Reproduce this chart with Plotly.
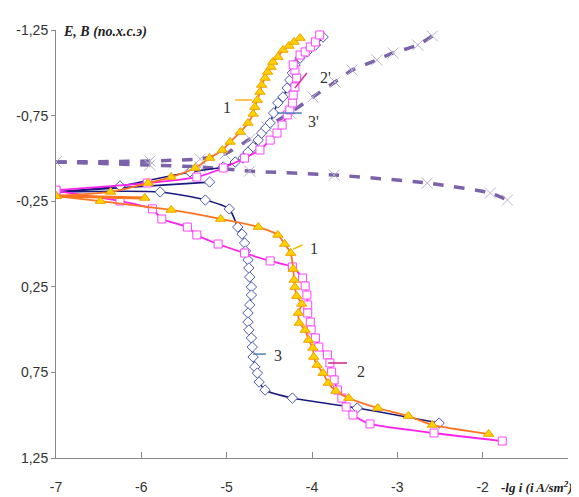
import plotly.graph_objects as go

# ---- data ----
# Curve 1 (orange line, yellow triangles)
c1_cat_x = [-7.00, -6.48, -5.65, -5.07, -4.63, -4.40, -4.32, -4.25, -4.22, -4.21, -4.20, -4.18, -4.12,
            -4.16, -4.15, -4.08, -4.04, -3.99, -3.98, -3.94, -3.87, -3.81, -3.72, -3.57, -3.23, -2.87, -2.59, -1.93]
c1_cat_y = [-0.280, -0.251, -0.199, -0.146, -0.099, -0.053, 0.000, 0.053, 0.146, 0.210, 0.251, 0.304, 0.350,
            0.403, 0.461, 0.502, 0.561, 0.607, 0.660, 0.707, 0.754, 0.812, 0.859, 0.900, 0.958, 1.005, 1.057, 1.110]
c1_an_x = [-7.00, -6.36, -5.92, -5.65, -5.37, -5.20, -5.05, -4.96, -4.84, -4.75, -4.69, -4.67, -4.64, -4.61,
           -4.59, -4.55, -4.52, -4.48, -4.46, -4.40, -4.34, -4.27, -4.21, -4.14]
c1_an_y = [-0.280, -0.304, -0.356, -0.391, -0.444, -0.502, -0.549, -0.596, -0.654, -0.707, -0.760, -0.800, -0.841, -0.888,
           -0.929, -0.970, -1.005, -1.034, -1.063, -1.092, -1.133, -1.157, -1.180, -1.203]
c1_short_x = [-7.00, -5.96]
c1_short_y = [-0.280, -0.269]

# Curve 2 (magenta line, open squares)
c2_cat_x = [-7.00, -6.25, -5.87, -5.76, -5.46, -5.35, -5.10, -4.79, -4.49, -4.23, -4.11, -4.08, -4.06, -4.05, -4.05,
            -4.02, -4.01, -3.96, -3.92, -3.82, -3.79, -3.77, -3.74, -3.70, -3.65, -3.60, -3.52, -3.32, -2.57, -1.77]
c2_cat_y = [-0.310, -0.251, -0.205, -0.146, -0.099, -0.053, 0.000, 0.053, 0.099, 0.134, 0.199, 0.245, 0.298, 0.356, 0.403,
            0.456, 0.502, 0.549, 0.602, 0.648, 0.695, 0.748, 0.794, 0.853, 0.900, 0.952, 0.999, 1.051, 1.104, 1.151]
c2_an_x = [-7.00, -5.93, -5.35, -5.04, -4.79, -4.61, -4.49, -4.41, -4.35, -4.29, -4.26, -4.23, -4.22, -4.20, -4.18,
           -4.20, -4.22, -4.14, -4.08, -4.02, -3.96, -3.91]
c2_an_y = [-0.315, -0.356, -0.391, -0.444, -0.502, -0.549, -0.607, -0.648, -0.695, -0.754, -0.783, -0.824, -0.870, -0.917, -0.970,
           -1.016, -1.046, -1.104, -1.122, -1.151, -1.180, -1.221]

# Curve 3 (navy line, open diamonds)
c3_cat_x = [-7.00, -5.78, -5.25, -4.97, -4.87, -4.82, -4.79, -4.78, -4.75, -4.74, -4.73, -4.71, -4.71, -4.73,
            -4.75, -4.75, -4.74, -4.71, -4.70, -4.69, -4.67, -4.64, -4.62, -4.55, -4.23, -3.47, -2.51]
c3_cat_y = [-0.304, -0.304, -0.257, -0.205, -0.099, -0.058, -0.006, 0.041, 0.093, 0.140, 0.193, 0.251, 0.298, 0.356,
            0.403, 0.456, 0.502, 0.549, 0.602, 0.660, 0.718, 0.754, 0.806, 0.853, 0.900, 0.958, 1.046]
c3_an_x = [-7.00, -6.25, -5.43, -5.04, -4.90, -4.81, -4.75, -4.69, -4.63, -4.59, -4.54, -4.49, -4.45, -4.40,
           -4.34, -4.29, -4.26, -4.23, -4.20, -4.14, -4.06, -3.96, -3.87]
c3_an_y = [-0.304, -0.339, -0.421, -0.450, -0.479, -0.502, -0.537, -0.567, -0.607, -0.648, -0.677, -0.707, -0.765, -0.824,
           -0.859, -0.911, -0.958, -0.999, -1.046, -1.086, -1.122, -1.162, -1.209]
c3_short_x = [-7.00, -5.20]
c3_short_y = [-0.304, -0.362]

# Dashed curve (purple, x markers)
d_up_x = [-7.00, -5.90, -5.31, -5.02, -4.73, -4.53, -4.26, -3.99, -3.73, -3.53, -3.24, -3.05, -2.76, -2.59]
d_up_y = [-0.479, -0.485, -0.497, -0.526, -0.613, -0.683, -0.765, -0.859, -0.946, -1.016, -1.075, -1.116, -1.162, -1.215]
d_lo_x = [-7.00, -5.90, -5.31, -4.73, -3.74, -2.65, -1.91, -1.71]
d_lo_y = [-0.479, -0.461, -0.450, -0.426, -0.403, -0.356, -0.298, -0.257]

y_tickvals = [-1.25, -0.75, -0.25, 0.25, 0.75, 1.25]
y_ticktext = ["-1,25", "-0,75", "-0,25", "0,25", "0,75", "1,25"]
x_tickvals = [-7, -6, -5, -4, -3, -2]
x_ticktext = ["-7", "-6", "-5", "-4", "-3", "-2"]

# curve labels: (text, x, y, leader x0, y0, x1, y1, leader colour)
labels = [
    ("1", -5.00, -0.800, -4.90, -0.841, -4.70, -0.841, "#FFB020"),
    ("2'", -3.84, -0.970, -4.20, -0.911, -4.06, -0.999, "#E0309A"),
    ("3'", -3.98, -0.718, -4.41, -0.765, -4.12, -0.765, "#4A7AB8"),
    ("1", -3.98, 0.029, -4.22, 0.029, -4.11, 0.006, "#F0C000"),
    ("3", -4.40, 0.654, -4.69, 0.643, -4.54, 0.643, "#5080B0"),
    ("2", -3.43, 0.742, -3.81, 0.695, -3.59, 0.695, "#D0208A"),
]

ORANGE = "#FF7420"
MAGENTA = "#FF22EE"
NAVY = "#1A1A80"
PURPLE = "#7B62AA"

fig = go.Figure()

def add(x, y, color, width, symbol=None, mfill=None, mline=None, msize=8, dash=None, shape="spline"):
    fig.add_trace(go.Scatter(
        x=x, y=y, mode="lines+markers",
        line=dict(color=color, width=width, dash=dash, shape=shape, smoothing=0.6),
        marker=dict(symbol=symbol, size=msize, color=mfill, line=dict(color=mline, width=1)),
        showlegend=False, hoverinfo="skip"))

# dashed purple curves
add(d_up_x, d_up_y, PURPLE, 3.5, "x-thin", None, "#B8B0CC", 11, dash="dash")
add(d_lo_x, d_lo_y, PURPLE, 3.5, "x-thin", None, "#B8B0CC", 11, dash="dash")

# curve 3
add(c3_short_x, c3_short_y, NAVY, 1.8, "diamond", "white", "#4A5AB0", 8, shape="linear")
add(c3_cat_x, c3_cat_y, NAVY, 1.6, "diamond", "white", "#4A5AB0", 8)
add(c3_an_x, c3_an_y, NAVY, 1.6, "diamond", "white", "#4A5AB0", 8)

# curve 2
add(c2_cat_x, c2_cat_y, MAGENTA, 1.8, "square", "white", "#FF44FF", 8)
add(c2_an_x, c2_an_y, MAGENTA, 1.8, "square", "white", "#FF44FF", 8)

# curve 1
add(c1_short_x, c1_short_y, ORANGE, 3, "triangle-up", "#FFD200", "#F0A000", 9, shape="linear")
add(c1_cat_x, c1_cat_y, ORANGE, 1.8, "triangle-up", "#FFD200", "#F0A000", 9)
add(c1_an_x, c1_an_y, ORANGE, 1.8, "triangle-up", "#FFD200", "#F0A000", 9)

annotations = []
shapes = []
for t, lx, ly, x0, y0, x1, y1, col in labels:
    annotations.append(dict(x=lx, y=ly, xref="x", yref="y", text=t, showarrow=False,
                            font=dict(family="Liberation Serif, Times New Roman, serif", size=16, color="#333333")))
    shapes.append(dict(type="line", xref="x", yref="y", x0=x0, y0=y0, x1=x1, y1=y1,
                       line=dict(color=col, width=1.5)))

annotations.append(dict(xref="paper", yref="paper", x=0, y=1, xanchor="left", yanchor="middle", xshift=5, yshift=-2,
                        text="<b><i>E, B (по.х.с.э)</i></b>", showarrow=False,
                        font=dict(family="Liberation Serif, Times New Roman, serif", size=14, color="#222222")))
annotations.append(dict(xref="paper", yref="paper", x=1, y=0, xanchor="right", yanchor="middle", xshift=7, yshift=-29,
                        text="<b><i>-lg i (i A/sm<sup>2</sup>)</i></b>", showarrow=False,
                        font=dict(family="Liberation Serif, Times New Roman, serif", size=13, color="#222222")))

tickfont = dict(family="Liberation Sans Narrow, Liberation Sans, Arial, sans-serif", size=14, color="#333333")

# the page places the figure 8px in from the top-left corner, so the figure is 8px smaller
fig.update_layout(
    width=571, height=489,
    margin=dict(l=48, r=11, t=22, b=39, autoexpand=False),
    plot_bgcolor="white", paper_bgcolor="white",
    xaxis=dict(range=[-7, -1], tickvals=x_tickvals, ticktext=x_ticktext, showgrid=False, zeroline=False,
               showline=True, linecolor="#888888", linewidth=1, ticks="inside", ticklen=6, tickcolor="#888888",
               tickfont=tickfont, ticklabelstandoff=16, automargin=False),
    yaxis=dict(range=[1.25, -1.25], tickvals=y_tickvals, ticktext=y_ticktext, showgrid=False, zeroline=False,
               showline=True, linecolor="#888888", linewidth=1, ticks="outside", ticklen=4, tickcolor="#888888",
               tickfont=tickfont, automargin=False),
    annotations=annotations, shapes=shapes,
)

fig.write_html("out.html")
